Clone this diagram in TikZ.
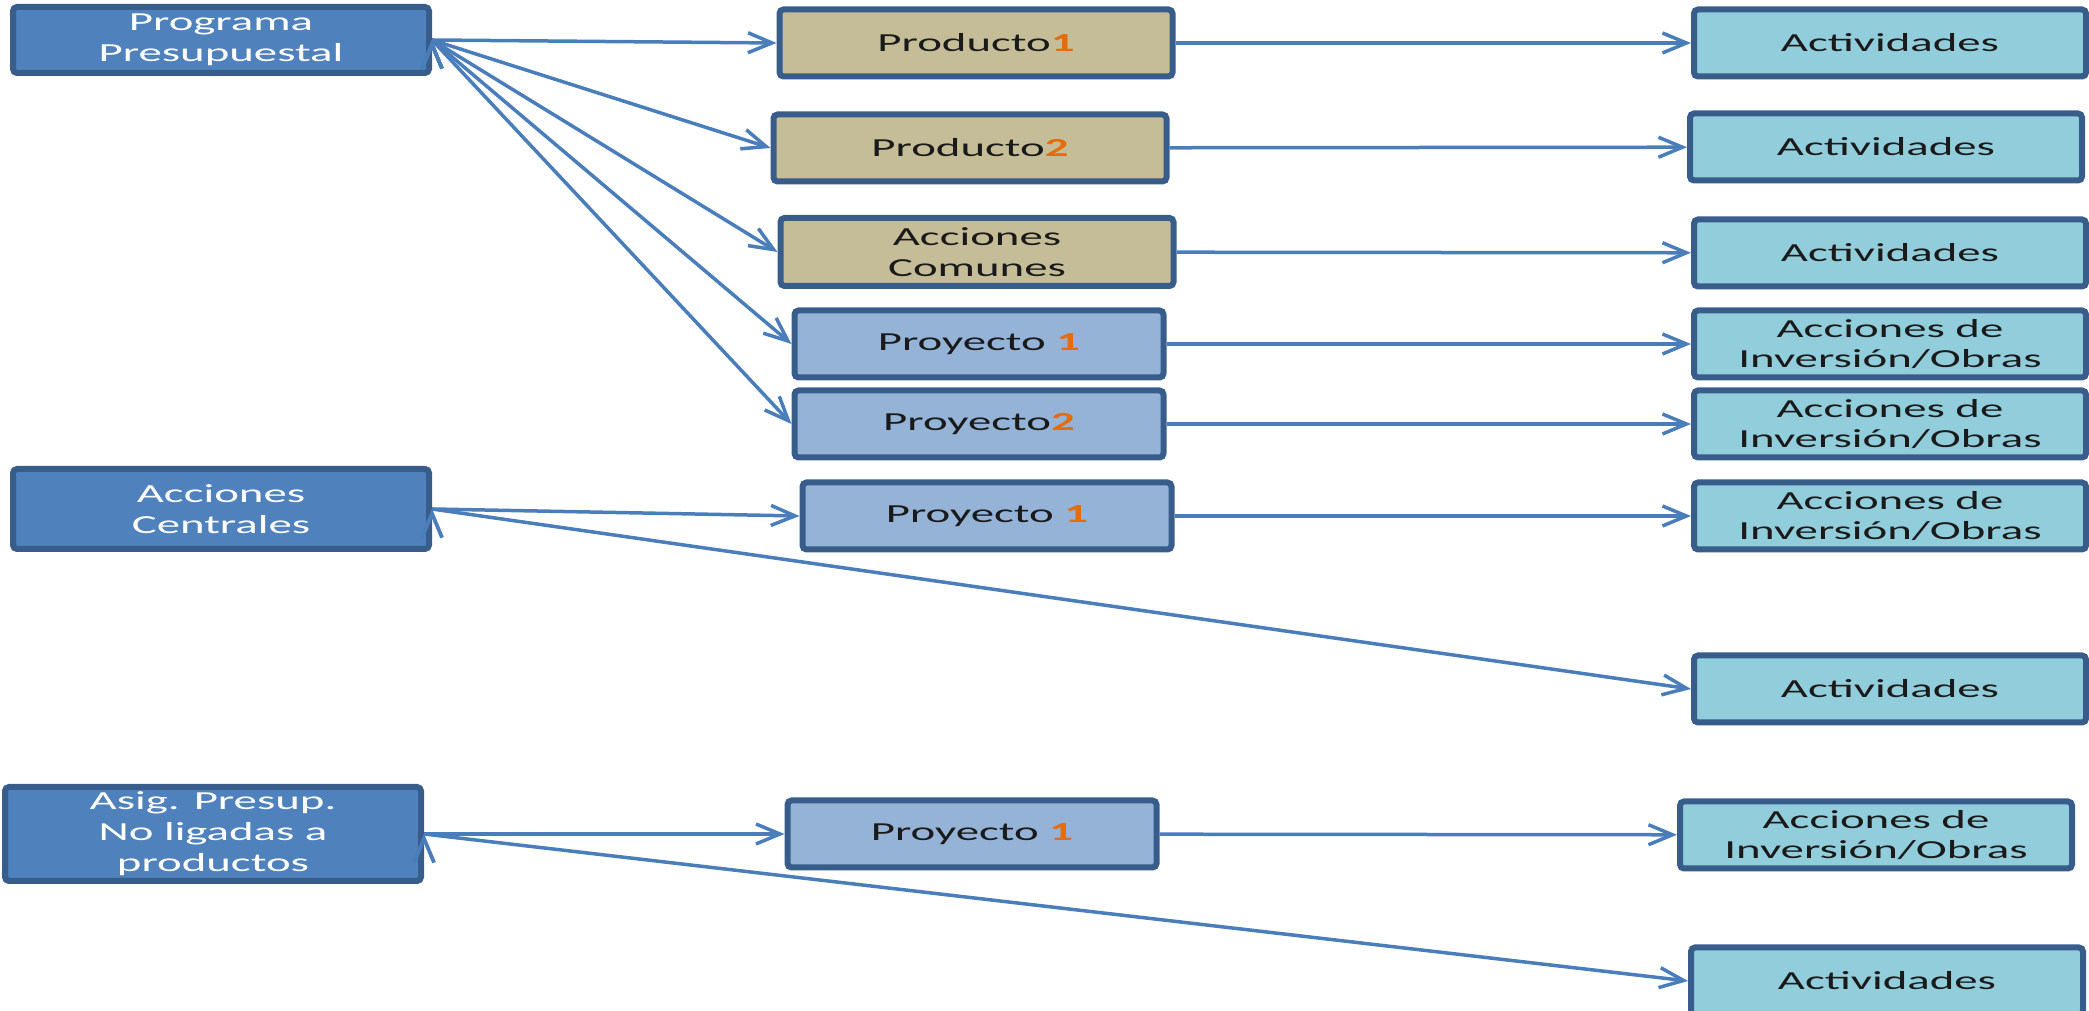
\documentclass[tikz,border=0pt]{standalone}
\usepackage{fontspec}
\setmainfont{Carlito}[FakeStretch=1.8]
\usepackage{tikz}
\usetikzlibrary{arrows.meta,positioning,calc}
\definecolor{bordeazul}{HTML}{385D8A}
\definecolor{azulprog}{HTML}{4F81BD}
\definecolor{beigeprod}{HTML}{C4BD97}
\definecolor{azulproy}{HTML}{95B3D7}
\definecolor{celesteact}{HTML}{92CDDC}
\definecolor{naranja}{HTML}{E46C0A}
\definecolor{flecha}{HTML}{4A7EBB}
\definecolor{textoosc}{HTML}{1A1A1A}
\newcommand{\num}[1]{\textcolor{naranja}{\bfseries #1}}

\begin{document}
\begin{tikzpicture}[->,>={Straight Barb[length=2.4mm,width=2mm]},
   conector/.style={draw=flecha, line width=0.035cm},
   caja/.style={draw=bordeazul, line width=0.06cm, rounded corners=0.4mm,
     inner sep=0pt, align=center, font=\fontsize{7.4}{8.8}\selectfont},
   progbox/.style={caja, fill=azulprog, text=white, minimum width=4.16cm},
   prodbox/.style={caja, fill=beigeprod, text=textoosc, minimum width=3.93cm, minimum height=0.67cm},
   proybox/.style={caja, fill=azulproy, text=textoosc, minimum width=3.69cm, minimum height=0.67cm},
   actbox/.style={caja, fill=celesteact, text=textoosc, minimum width=3.92cm, minimum height=0.67cm}]
  \useasboundingbox (0, 0) rectangle (20.89, -10.11);
  % columna izquierda
  \node[progbox, minimum height=0.66cm] (prog) at (2.21, -0.40) {Programa\\Presupuestal};
  \node[progbox, minimum height=0.80cm] (acen) at (2.21, -5.09) {Acciones\\Centrales};
  \node[progbox, minimum height=0.94cm] (asig) at (2.13, -8.34) {Asig. Presup.\\No ligadas a\\productos};
  % columna central
  \node[prodbox] (prod1) at (9.76, -0.43) {Producto\num{1}};
  \node[prodbox] (prod2) at (9.70, -1.48) {Producto\num{2}};
  \node[prodbox, minimum height=0.68cm] (acom) at (9.77, -2.52) {Acciones\\Comunes};
  \node[proybox] (proy1) at (9.79, -3.44) {Proyecto \num{1}};
  \node[proybox] (proy2) at (9.79, -4.24) {Proyecto\num{2}};
  \node[proybox] (proy3) at (9.87, -5.16) {Proyecto \num{1}};
  \node[proybox] (proy4) at (9.72, -8.34) {Proyecto \num{1}};
  % columna derecha
  \node[actbox] (act1) at (18.90, -0.43) {Actividades};
  \node[actbox] (act2) at (18.86, -1.47) {Actividades};
  \node[actbox] (act3) at (18.90, -2.53) {Actividades};
  \node[actbox] (inv1) at (18.90, -3.44) {Acciones de\\Inversión/Obras};
  \node[actbox] (inv2) at (18.90, -4.24) {Acciones de\\Inversión/Obras};
  \node[actbox] (inv3) at (18.90, -5.16) {Acciones de\\Inversión/Obras};
  \node[actbox] (act4) at (18.90, -6.89) {Actividades};
  \node[actbox] (inv4) at (18.76, -8.35) {Acciones de\\Inversión/Obras};
  \node[actbox] (act5) at (18.87, -9.81) {Actividades};
  % flechas
  \path[conector] (prog.east) edge (prod1.west);
  \path[conector] (prog.east) edge (prod2.west);
  \path[conector] (prog.east) edge (acom.west);
  \path[conector] (prog.east) edge (proy1.west);
  \path[conector] (prog.east) edge (proy2.west);
  \path[conector] (acen.east) edge (proy3.west);
  \path[conector] (acen.east) edge (act4.west);
  \path[conector] (asig.east) edge (proy4.west);
  \path[conector] (asig.east) edge (act5.west);
  \path[conector] (prod1) edge (act1);
  \path[conector] (prod2) edge (act2);
  \path[conector] (acom) edge (act3);
  \path[conector] (proy1) edge (inv1);
  \path[conector] (proy2) edge (inv2);
  \path[conector] (proy3) edge (inv3);
  \path[conector] (proy4) edge (inv4);
\end{tikzpicture}
\end{document}
